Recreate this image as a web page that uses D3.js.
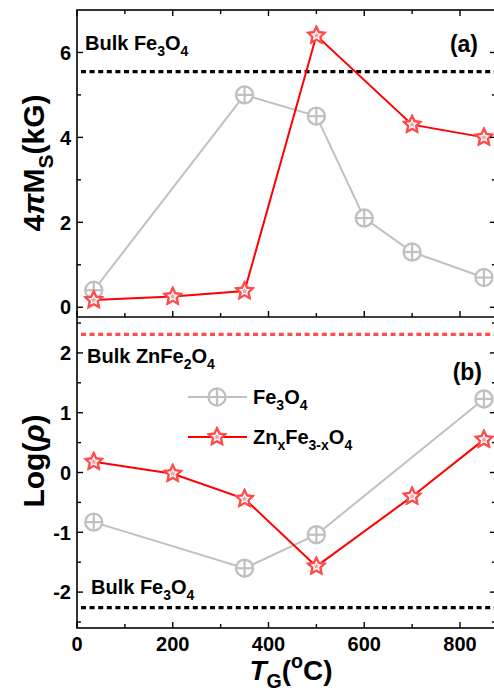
<!DOCTYPE html>
<html><head><meta charset="utf-8">
<script src="https://cdn.jsdelivr.net/npm/d3@7"></script>
<style>
html,body{margin:0;padding:0;background:#fff;}
text{font-family:"Liberation Sans",Arial,sans-serif;font-weight:bold;fill:#000;}
</style></head>
<body><svg id="c" width="494" height="696"></svg>
<script>
// ---- data ----
const msFe3O4_T = [35, 350, 500, 600, 700, 850];
const msFe3O4 = [0.4, 5.0, 4.5, 2.1, 1.3, 0.7];
const msZn_T = [35, 200, 350, 500, 700, 850];
const msZn = [0.17, 0.25, 0.38, 6.4, 4.3, 4.0];
const bulkMsFe3O4 = 5.55;

const rhoFe3O4_T = [35, 350, 500, 850];
const rhoFe3O4 = [-0.83, -1.6, -1.04, 1.23];
const rhoZn_T = [35, 200, 350, 500, 700, 850];
const rhoZn = [0.18, -0.02, -0.44, -1.57, -0.4, 0.55];
const bulkRhoZnFe2O4 = 2.31;
const bulkRhoFe3O4 = -2.26;

const xTicks = [0, 200, 400, 600, 800];
const xMinor = [100, 300, 500, 700];
const yTicksA = [0, 2, 4, 6];
const yMinorA = [1, 3, 5];
const yTicksB = [-2, -1, 0, 1, 2];
const yMinorB = [-2.5, -1.5, -0.5, 0.5, 1.5, 2.5];

// ---- layout ----
const svg = d3.select("#c");
const L = 77, R = 495.9, TOP = 10, MID = 317, BOT = 628;
const x = d3.scaleLinear().domain([0, 875]).range([L, R]);
const yA = d3.scaleLinear().domain([-0.23, 7]).range([MID, TOP]);
const yB = d3.scaleLinear().domain([-2.6, 2.6]).range([BOT, MID]);

const GRAY = "#c0c0c0", RED = "#ff0000", STAR = "#ff4a4a";

function starPath(R1, r1) {
  const pts = [];
  for (let i = 0; i < 10; i++) {
    const a = -Math.PI / 2 + i * Math.PI / 5;
    const rr = i % 2 === 0 ? R1 : r1;
    pts.push([rr * Math.cos(a), rr * Math.sin(a)]);
  }
  return "M" + pts.map(p => p[0].toFixed(2) + "," + p[1].toFixed(2)).join("L") + "Z";
}

function drawCircleMarker(g, cx, cy) {
  const m = g.append("g").attr("transform", `translate(${cx},${cy})`);
  m.append("circle").attr("r", 8.5).attr("fill", "#fff").attr("stroke", GRAY).attr("stroke-width", 2.4);
  m.append("line").attr("x1", -8.5).attr("x2", 8.5).attr("y1", 0).attr("y2", 0).attr("stroke", GRAY).attr("stroke-width", 2.2);
  m.append("line").attr("y1", -8.5).attr("y2", 8.5).attr("x1", 0).attr("x2", 0).attr("stroke", GRAY).attr("stroke-width", 2.2);
}
function drawStarMarker(g, cx, cy) {
  const m = g.append("g").attr("transform", `translate(${cx},${cy})`);
  m.append("path").attr("d", starPath(10.5, 5)).attr("fill", STAR).attr("stroke", STAR).attr("stroke-width", 1).attr("stroke-linejoin", "round");
  m.append("path").attr("d", starPath(6, 2.9)).attr("fill", "#fff").attr("stroke", "none");
  m.append("path").attr("d", starPath(3, 1.4)).attr("fill", "#ff9a9a").attr("stroke", "none");
}

function series(xs, ys, xsc, ysc, color, lw, marker) {
  const g = svg.append("g");
  const data = xs.map((d, i) => [d, ys[i]]);
  g.append("path").datum(data)
    .attr("d", d3.line().x(d => xsc(d[0])).y(d => ysc(d[1])))
    .attr("fill", "none").attr("stroke", color).attr("stroke-width", lw);
  data.forEach(d => marker(g, xsc(d[0]), ysc(d[1])));
}

function hdash(yv, ysc, color) {
  svg.append("line").attr("x1", L + 4).attr("x2", R).attr("y1", ysc(yv)).attr("y2", ysc(yv))
    .attr("stroke", color).attr("stroke-width", 3.2).attr("stroke-dasharray", "5,3.6");
}

// rich text helper: parts = [[text, type]] type: n (normal), sub, sup, i (italic)
function rich(sel, parts, base) {
  let shift = 0;
  parts.forEach(([t, type]) => {
    const ts = sel.append("tspan").text(t);
    let target = 0;
    if (type === "sub") { ts.attr("font-size", base * 0.7); target = base * 0.3; }
    else if (type === "sup") { ts.attr("font-size", base * 0.7); target = -base * 0.42; }
    if (type === "i") ts.attr("font-style", "italic");
    if (target !== shift) { ts.attr("dy", target - shift); shift = target; }
  });
}

// dashed reference lines
hdash(bulkMsFe3O4, yA, "#000");
hdash(bulkRhoZnFe2O4, yB, "#ff4d4d");
hdash(bulkRhoFe3O4, yB, "#000");

// series
series(msFe3O4_T, msFe3O4, x, yA, GRAY, 2, drawCircleMarker);
series(msZn_T, msZn, x, yA, RED, 2, drawStarMarker);
series(rhoFe3O4_T, rhoFe3O4, x, yB, GRAY, 2, drawCircleMarker);
series(rhoZn_T, rhoZn, x, yB, RED, 2, drawStarMarker);

// frame
const frame = svg.append("g").attr("stroke", "#000").attr("stroke-width", 1.6).attr("fill", "none");
frame.append("rect").attr("x", L).attr("y", TOP).attr("width", R - L).attr("height", BOT - TOP);
frame.append("line").attr("x1", L).attr("x2", R).attr("y1", MID).attr("y2", MID);

// ticks
const tk = svg.append("g").attr("stroke", "#000").attr("stroke-width", 1.4);
function xt(vals, y0, dir, len) {
  vals.forEach(v => tk.append("line").attr("x1", x(v)).attr("x2", x(v)).attr("y1", y0).attr("y2", y0 + dir * len));
}
xt(xTicks, TOP, 1, 6); xt(xMinor, TOP, 1, 4);
xt(xTicks, MID, -1, 6); xt(xMinor, MID, -1, 4);
xt(xTicks, BOT, -1, 6); xt(xMinor, BOT, -1, 4);
function yt(vals, ysc, len) {
  vals.forEach(v => {
    tk.append("line").attr("x1", L).attr("x2", L + len).attr("y1", ysc(v)).attr("y2", ysc(v));
    tk.append("line").attr("x1", R).attr("x2", R - len).attr("y1", ysc(v)).attr("y2", ysc(v));
  });
}
yt(yTicksA, yA, 6); yt(yMinorA, yA, 4);
yt(yTicksB, yB, 6); yt(yMinorB, yB, 4);

// tick labels
const FS = 20;
yTicksA.forEach(v => svg.append("text").attr("x", L - 6).attr("y", yA(v)).attr("dy", "0.36em")
  .attr("text-anchor", "end").attr("font-size", FS).text(v));
yTicksB.forEach(v => svg.append("text").attr("x", L - 6).attr("y", yB(v)).attr("dy", "0.36em")
  .attr("text-anchor", "end").attr("font-size", FS).text(v < 0 ? "-" + Math.abs(v) : v));
xTicks.forEach(v => svg.append("text").attr("x", x(v)).attr("y", 651)
  .attr("text-anchor", "middle").attr("font-size", FS).text(v));

// axis titles
const TFS = 30;
const ta = svg.append("text").attr("transform", `translate(44,163) rotate(-90)`)
  .attr("text-anchor", "middle").attr("font-size", TFS);
rich(ta, [["4", "n"], ["π", "i"], ["M", "n"], ["S", "sub"], ["(kG)", "n"]], TFS);
const tb = svg.append("text").attr("transform", `translate(44,461) rotate(-90)`)
  .attr("text-anchor", "middle").attr("font-size", TFS);
rich(tb, [["Log(", "n"], ["ρ", "i"], [")", "n"]], TFS);
const XFS = 28;
const tx = svg.append("text").attr("x", 291).attr("y", 680).attr("text-anchor", "middle").attr("font-size", XFS);
rich(tx, [["T", "i"], ["G", "sub"], ["(", "n"], ["o", "sup"], ["C)", "n"]], XFS);

// annotations
const AFS = 20;
rich(svg.append("text").attr("x", 85).attr("y", 50).attr("font-size", AFS),
  [["Bulk Fe", "n"], ["3", "sub"], ["O", "n"], ["4", "sub"]], AFS);
rich(svg.append("text").attr("x", 87).attr("y", 363).attr("font-size", AFS),
  [["Bulk ZnFe", "n"], ["2", "sub"], ["O", "n"], ["4", "sub"]], AFS);
rich(svg.append("text").attr("x", 91).attr("y", 594).attr("font-size", AFS),
  [["Bulk Fe", "n"], ["3", "sub"], ["O", "n"], ["4", "sub"]], AFS);
svg.append("text").attr("x", 478).attr("y", 52).attr("text-anchor", "end").attr("font-size", 23).text("(a)");
svg.append("text").attr("x", 482).attr("y", 380).attr("text-anchor", "end").attr("font-size", 23).text("(b)");

// legend
const lg = svg.append("g");
const legendItems = [
  { y: 397, color: GRAY, marker: drawCircleMarker, parts: [["Fe", "n"], ["3", "sub"], ["O", "n"], ["4", "sub"]] },
  { y: 437, color: RED, marker: drawStarMarker, parts: [["Zn", "n"], ["x", "sub"], ["Fe", "n"], ["3-x", "sub"], ["O", "n"], ["4", "sub"]] }
];
legendItems.forEach(it => {
  lg.append("line").attr("x1", 188).attr("x2", 247).attr("y1", it.y).attr("y2", it.y)
    .attr("stroke", it.color).attr("stroke-width", 2);
  it.marker(lg, 217, it.y);
  rich(lg.append("text").attr("x", 253).attr("y", it.y + 7).attr("font-size", AFS), it.parts, AFS);
});
</script></body></html>
